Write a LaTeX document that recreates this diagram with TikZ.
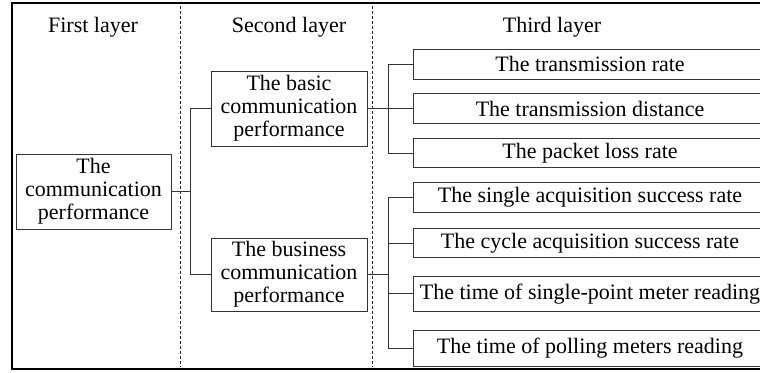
\documentclass[tikz,border=0pt]{standalone}
\usepackage{fontspec}
\setmainfont{Liberation Serif}
\begin{document}
\begin{tikzpicture}[x=1pt,y=-1pt,
  every node/.style={font=\fontsize{22}{23}\selectfont},
  box/.style={draw=black!80,line width=0.9pt,inner sep=0pt,align=center},
  bigbox/.style={box,minimum width=156pt,minimum height=75pt},
  leaf/.style={box,minimum width=353pt},
  conn/.style={draw=black!80,line width=0.9pt},
  sep/.style={draw=black!85,line width=0.8pt,dash pattern=on 3pt off 2pt},
  head/.style={anchor=base}]
\useasboundingbox (0,0) rectangle (760,372);
\fill[white] (0,0) rectangle (760,372);
% frame
\draw[line width=2.2pt] (12,3.3) rectangle (790,369);
% separators
\coordinate (s1t) at (180.5,6);
\coordinate (s1b) at (180.5,367);
\coordinate (s2t) at (372.7,6);
\coordinate (s2b) at (372.7,367);
\draw[sep] (s1t) -- (s1b);
\draw[sep] (s2t) -- (s2b);
% headings
\node[head] (h1) at (93,32) {First layer};
\node[head] (h2) at (289,32) {Second layer};
\node[head] (h3) at (552,32) {Third layer};
% first/second layer
\node[bigbox,minimum width=155pt] (A) at (93.5,191.5) {The\\communication\\performance};
\node[bigbox] (B) at (289,108.5) {The basic\\communication\\performance};
\node[bigbox,minimum height=73pt] (C) at (289,274.5) {The business\\communication\\performance};
% third layer
\node[leaf,minimum height=30pt] (t1) at (590,64) {The transmission rate};
\node[leaf,minimum height=30pt] (t2) at (590,108.5) {The transmission distance};
\node[leaf,minimum height=29.5pt] (t3) at (590,153) {The packet loss rate};
\node[leaf,minimum height=29.6pt] (t4) at (590,197.5) {The single acquisition success rate};
\node[leaf,minimum height=29.4pt] (t5) at (590,243) {The cycle acquisition success rate};
\node[leaf,minimum height=34.3pt] (t6) at (590,293.8) {The time of single-point meter reading};
\node[leaf,minimum height=35.7pt] (t7) at (590,348.2) {The time of polling meters reading};
% junctions
\coordinate (j1) at (190,0);
\coordinate (j2) at (388.7,0);
\draw[conn] (A.east) -- (A.east -| j1);
\draw[conn] (B.west) -- (B.west -| j1) -- (C.west -| j1) -- (C.west);
\draw[conn] (B.east) -- (B.east -| j2);
\draw[conn] (t1.west) -- (t1.west -| j2) -- (t3.west -| j2) -- (t3.west);
\draw[conn] (t2.west) -- (t2.west -| j2);
\draw[conn] (C.east) -- (C.east -| j2);
\draw[conn] (t4.west) -- (t4.west -| j2) -- (t7.west -| j2) -- (t7.west);
\draw[conn] (t5.west) -- (t5.west -| j2);
\draw[conn] (t6.west) -- (t6.west -| j2);
\end{tikzpicture}
\end{document}
